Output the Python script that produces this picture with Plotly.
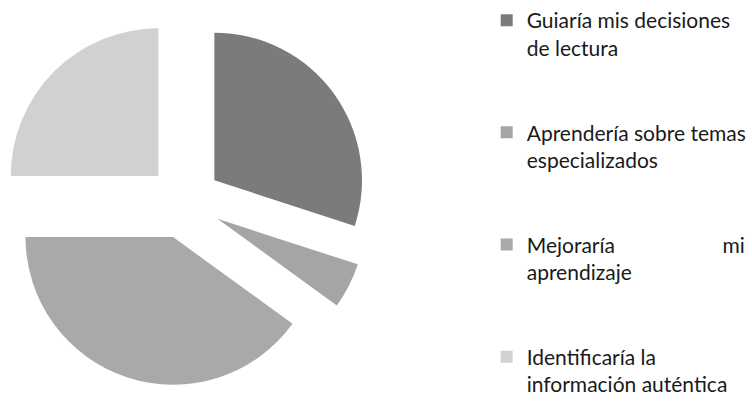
import plotly.graph_objects as go

# Survey answers: what the resource would do for the reader (percent of responses)
categories = [
    "Guiaría mis decisiones<br>de lectura",
    "Aprendería sobre temas<br>especializados",
    "Mejoraría\u00a0\u00a0\u00a0\u00a0\u00a0\u00a0\u00a0\u00a0\u00a0\u00a0\u00a0\u00a0\u00a0\u00a0\u00a0\u00a0\u00a0\u00a0\u00a0\u00a0mi<br>aprendizaje",
    "Identificaría la<br>información auténtica",
]
values = [30, 5, 40, 25]
colors = ["#7b7b7b", "#a5a5a5", "#a9a9a9", "#d1d1d1"]

# extra empty lines give each legend entry its vertical spacing
legend_labels = [c + "<br> <br> " for c in categories[:-1]] + [categories[-1]]

fig = go.Figure(
    go.Pie(
        labels=legend_labels,
        values=values,
        marker=dict(colors=colors, line=dict(width=0)),
        sort=False,
        direction="clockwise",
        rotation=0,
        pull=0.25,
        textinfo="none",
        hoverinfo="label+percent",
        domain=dict(x=[0, 370 / 752], y=[0.036, 0.9665]),
    )
)

fig.update_layout(
    width=752,
    height=403,
    margin=dict(l=0, r=0, t=0, b=0),
    paper_bgcolor="white",
    plot_bgcolor="white",
    font=dict(family="Lato, 'Open Sans', sans-serif", size=21, color="#1a1a1a"),
    legend=dict(
        x=488 / 752,
        xanchor="left",
        y=1.005,
        yanchor="top",
        valign="top",
        traceorder="normal",
        bgcolor="rgba(0,0,0,0)",
        borderwidth=0,
        tracegroupgap=0,
        maxheight=1000,
    ),
    showlegend=True,
)

fig.write_html("out.html")
